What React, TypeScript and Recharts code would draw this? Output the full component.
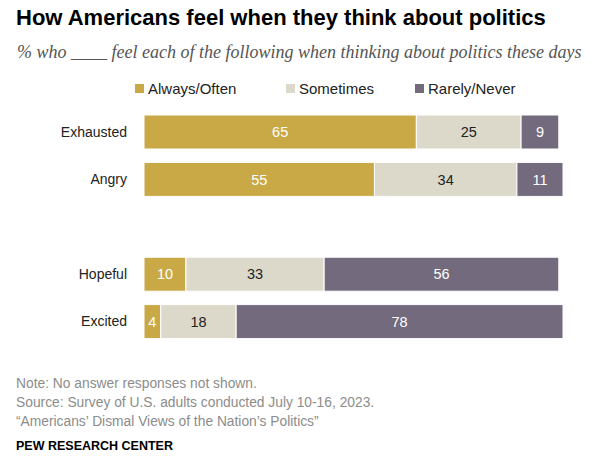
import { BarChart, Bar, XAxis, YAxis, LabelList } from "recharts"

const feelings = ["Exhausted", "Angry", "", "Hopeful", "Excited"]
const alwaysOften = [65, 55, null, 10, 4]
const sometimes = [25, 34, null, 33, 18]
const rarelyNever = [9, 11, null, 56, 78]

const seriesNames = ["Always/Often", "Sometimes", "Rarely/Never"]
const colors = ["#c9a846", "#dcd9ca", "#736a7e"]

const data = feelings.map((f, i) => ({
  feeling: f,
  always: alwaysOften[i],
  sometimes: sometimes[i],
  rarely: rarelyNever[i],
}))

const hideEmpty = (v: any) => (v == null ? "" : v)

const txt = "'Liberation Sans', Arial, sans-serif"

export default function App() {
  return (
    <div
      style={{
        position: "absolute",
        left: 0,
        top: 0,
        width: 600,
        height: 474,
        background: "#fff",
        fontFamily: txt,
      }}
    >
      <div
        style={{
          position: "absolute",
          left: 16,
          top: 5,
          fontSize: 22,
          fontWeight: 700,
          color: "#000",
          whiteSpace: "nowrap",
        }}
      >
        How Americans feel when they think about politics
      </div>
      <div
        style={{
          position: "absolute",
          left: 17,
          top: 42,
          fontSize: 18,
          fontStyle: "italic",
          fontFamily: "'Liberation Serif', serif",
          color: "#555",
          whiteSpace: "nowrap",
        }}
      >
        % who ____ feel each of the following when thinking about politics these days
      </div>

      {/* legend */}
      {seriesNames.map((name, i) => (
        <div
          key={name}
          style={{
            position: "absolute",
            left: [135, 286, 415][i],
            top: 80,
            fontSize: 15,
            color: "#222",
            whiteSpace: "nowrap",
            display: "flex",
            alignItems: "center",
          }}
        >
          <span
            style={{
              display: "inline-block",
              width: 9,
              height: 9,
              background: colors[i],
              marginRight: 4,
            }}
          />
          {name}
        </div>
      ))}

      <div style={{ position: "absolute", left: 0, top: 0 }}>
        <BarChart
          width={600}
          height={360}
          data={data}
          layout="vertical"
          margin={{ top: 108, right: 37, bottom: 15, left: 0 }}
        >
          <XAxis type="number" domain={[0, 100]} hide />
          <YAxis
            type="category"
            dataKey="feeling"
            width={144}
            axisLine={false}
            tickLine={false}
            tickMargin={11}
            tick={{ fill: "#222", fontSize: 14, fontFamily: txt }}
          />
          <Bar dataKey="always" stackId="a" fill={colors[0]} stroke="#fff" strokeWidth={1} barSize={34} isAnimationActive={false}>
            <LabelList dataKey="always" position="center" fill="#fff" fontSize={14.5} fontFamily={txt} formatter={hideEmpty} />
          </Bar>
          <Bar dataKey="sometimes" stackId="a" fill={colors[1]} stroke="#fff" strokeWidth={1} barSize={34} isAnimationActive={false}>
            <LabelList dataKey="sometimes" position="center" fill="#222" fontSize={14.5} fontFamily={txt} formatter={hideEmpty} />
          </Bar>
          <Bar dataKey="rarely" stackId="a" fill={colors[2]} stroke="#fff" strokeWidth={1} barSize={34} isAnimationActive={false}>
            <LabelList dataKey="rarely" position="center" fill="#fff" fontSize={14.5} fontFamily={txt} formatter={hideEmpty} />
          </Bar>
        </BarChart>
      </div>

      {/* notes */}
      <div
        style={{
          position: "absolute",
          left: 16,
          top: 374,
          fontSize: 13.8,
          lineHeight: "19px",
          color: "#8c8c8c",
          whiteSpace: "nowrap",
        }}
      >
        <div>Note: No answer responses not shown.</div>
        <div>Source: Survey of U.S. adults conducted July 10-16, 2023.</div>
        <div>“Americans’ Dismal Views of the Nation’s Politics”</div>
      </div>
      <div
        style={{
          position: "absolute",
          left: 16,
          top: 439,
          fontSize: 12.5,
          fontWeight: 700,
          color: "#000",
          whiteSpace: "nowrap",
        }}
      >
        PEW RESEARCH CENTER
      </div>
    </div>
  )
}
